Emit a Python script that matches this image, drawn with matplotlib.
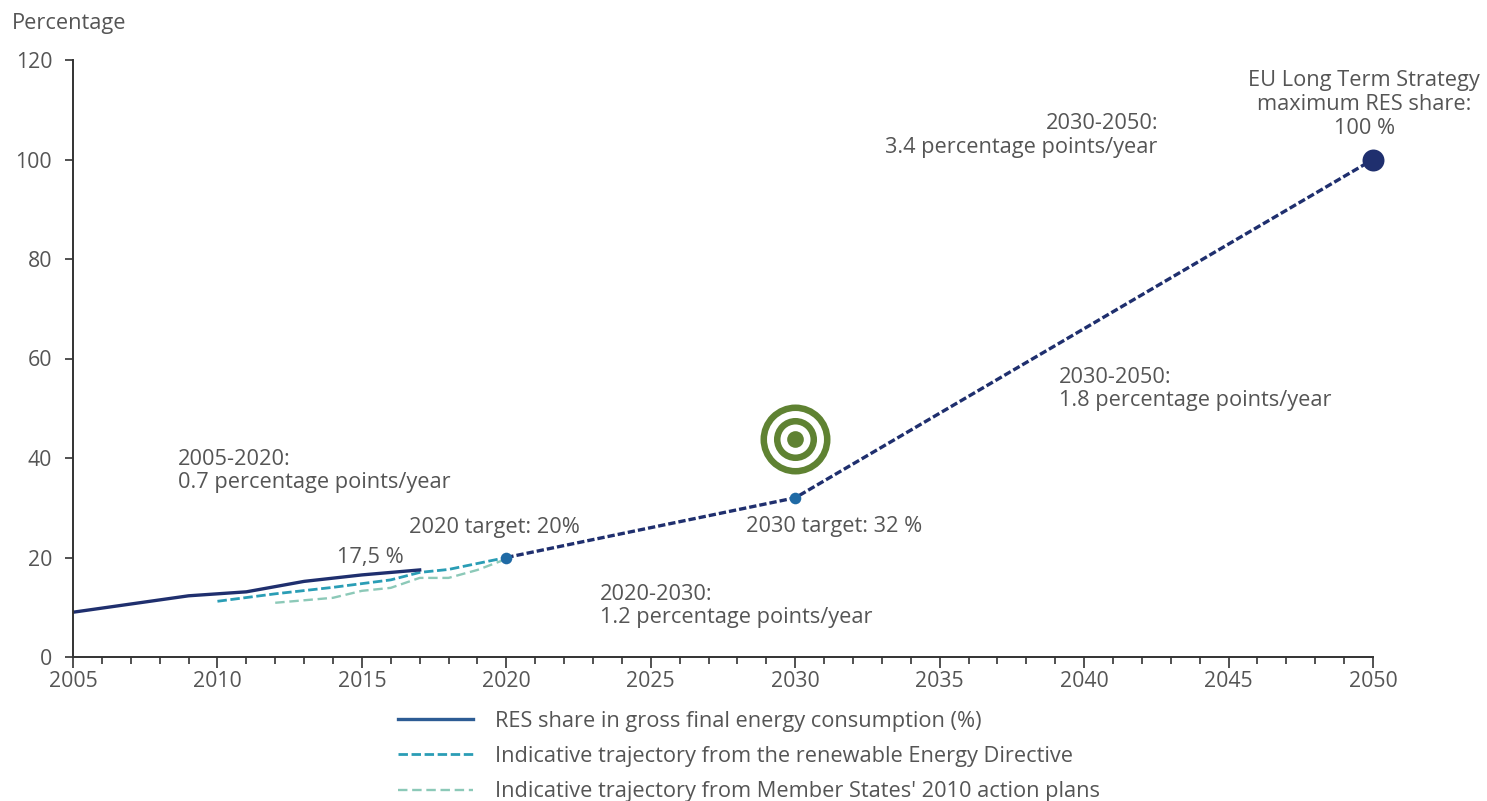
import matplotlib
matplotlib.use("Agg")
from matplotlib import pyplot as plt
from matplotlib.lines import Line2D

plt.rcParams['font.family'] = ['Open Sans', 'DejaVu Sans']

res_years = [2005, 2009, 2011, 2013, 2015, 2017]
res_share = [9.0, 12.3, 13.1, 15.2, 16.5, 17.5]
directive_years = [2010, 2012, 2014, 2016, 2017, 2018, 2020]
directive_share = [11.2, 12.7, 14.0, 15.5, 17.0, 17.6, 20.0]
plans_years = [2012, 2013, 2014, 2015, 2016, 2017, 2018, 2019, 2020]
plans_share = [10.9, 11.4, 11.9, 13.3, 13.9, 15.9, 15.9, 17.5, 19.7]
target_years = [2020, 2030, 2050]
target_share = [20, 32, 100]

labels = ["RES share in gross final energy consumption (%)",
          "Indicative trajectory from the renewable Energy Directive",
          "Indicative trajectory from Member States' 2010 action plans"]
notes = [(2008.63, 37.4, "2005-2020:\n0.7 percentage points/year"),
         (2023.24, 10.2, "2020-2030:\n1.2 percentage points/year"),
         (2039.13, 53.9, "2030-2050:\n1.8 percentage points/year"),
         (2038.68, 107.2, "2030-2050:"),
         (2033.1, 102.5, "3.4 percentage points/year"),
         (2016.63, 26.1, "2020 target: 20%")]

NAVY = "#1f2f6e"
BLUE = "#1f6aa5"
TEAL = "#2a9db5"
MINT = "#8cc9b8"
GREEN = "#5f8232"
GREY = "#555555"
FS = 15.7

W, H = 1487, 801
fig = plt.figure(figsize=(W / 100, H / 100), dpi=100)
ax = fig.add_axes([73 / W, (H - 657) / H, 1300 / W, 597 / H])

ax.plot(plans_years, plans_share, color=MINT, lw=1.7, ls=(0, (4, 2)))
ax.plot(directive_years, directive_share, color=TEAL, lw=2, ls=(0, (3.4, 1.3)))
ax.plot(res_years, res_share, color=NAVY, lw=2.4)
ax.plot(target_years, target_share, color=NAVY, lw=2.4, ls=(0, (2.2, 0.9)))

# target points, 2050 one is bigger
ax.scatter(target_years[:2], target_share[:2], s=70, color=BLUE, zorder=5, linewidths=0)
ax.scatter(target_years[2], target_share[2], s=250, color=NAVY, zorder=5, linewidths=0, clip_on=False)

# bullseye above 2030
for d, col in zip([50.4, 41, 31, 21.6, 12], [GREEN, "white", GREEN, "white", GREEN]):
    ax.scatter(2030, 43.8, s=d ** 2, color=col, zorder=6, linewidths=0)

ax.set_xlim(2005, 2050)
ax.set_ylim(0, 120)
ax.set_xticks(range(2005, 2051, 5))
ax.set_xticks(range(2005, 2051), minor=True)
ax.set_yticks(range(0, 121, 20))
ax.tick_params(axis='both', which='major', width=1.2, color="#333333",
               labelcolor=GREY, labelsize=15.3)
ax.tick_params(axis='x', which='major', length=8, pad=2)
ax.tick_params(axis='x', which='minor', length=5, width=1.2, color="#333333")
ax.tick_params(axis='y', which='major', length=6, pad=9)
for side in ['top', 'right']:
    ax.spines[side].set_visible(False)
for side in ['left', 'bottom']:
    ax.spines[side].set_linewidth(1.4)
    ax.spines[side].set_color("#333333")

for x, y, txt in notes:
    ax.text(x, y, txt, ha='left', va='center', color=GREY, fontsize=FS, linespacing=1.15)
ax.text(2015.3, 20.1, "17,5 %", ha='center', va='center', color=GREY, fontsize=FS)
ax.text(2031.34, 26.3, "2030 target: 32 %", ha='center', va='center', color=GREY, fontsize=FS)
ax.text(2049.7, 111.1, "EU Long Term Strategy\nmaximum RES share:\n100 %", ha='center', va='center',
        color=GREY, fontsize=FS, linespacing=1.2, clip_on=False)
fig.text(12 / W, 1 - 24 / H, "Percentage", ha='left', va='center', color=GREY, fontsize=FS)

handles = [Line2D([], [], color="#2d5c94", lw=2.4),
           Line2D([], [], color=TEAL, lw=2, ls=(0, (3.4, 1.3))),
           Line2D([], [], color=MINT, lw=1.7, ls=(0, (4, 2)))]
fig.legend(handles, labels, loc='upper left', bbox_to_anchor=(398 / W, 1 - 710.5 / H),
           frameon=False, fontsize=FS, labelcolor=GREY, handlelength=3.44, handletextpad=1.0,
           labelspacing=0.66, borderaxespad=0, borderpad=0)

fig.savefig("out.png", dpi=100)
